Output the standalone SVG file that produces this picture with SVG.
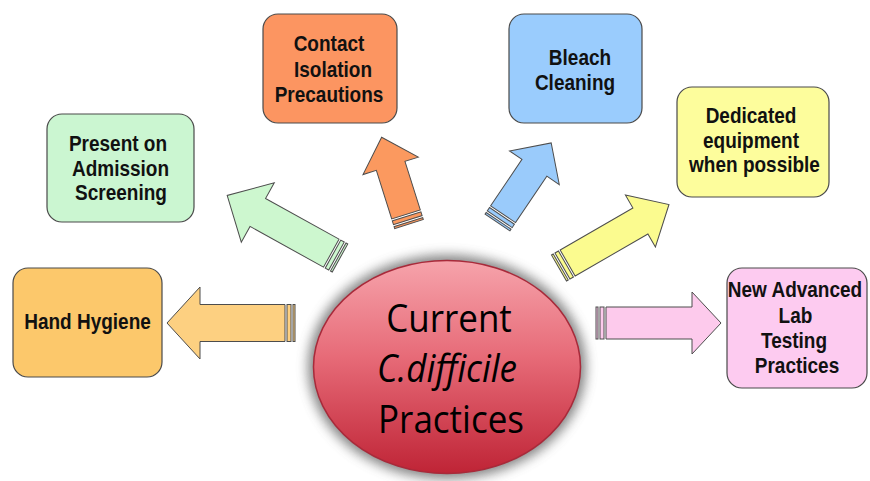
<svg xmlns="http://www.w3.org/2000/svg" width="870" height="481" viewBox="0 0 870 481">
  <defs>
    <style>
      .box { stroke: #4a4a4a; stroke-width: 1.2; }
      .lbl { font-family: "Liberation Sans", Arial, sans-serif; font-weight: bold; font-size: 19px; fill: #111; text-anchor: middle; }
      .arrow path, .arrow rect { stroke: #4d4d4d; stroke-width: 1; stroke-linejoin: miter; }
      .hub { font-family: "Open Sans", "Noto Sans", sans-serif; font-size: 35px; fill: #000; text-anchor: middle; }
    </style>
    <linearGradient id="hubFill" x1="0" y1="0" x2="0" y2="1">
      <stop offset="0" stop-color="#f6a3ab"/>
      <stop offset="0.45" stop-color="#e76b78"/>
      <stop offset="1" stop-color="#bf2436"/>
    </linearGradient>
    <filter id="halo" x="-20%" y="-20%" width="140%" height="140%">
      <feGaussianBlur stdDeviation="6"/>
    </filter>
  </defs>

  <rect width="870" height="481" fill="#ffffff"/>

  <!-- connectors: striped block arrows, drawn along +x from the tail -->
  <g id="connectors">
    <g class="arrow" fill="#fdd081" transform="translate(295,323) rotate(180)">
      <rect x="0" y="-18.5" width="2" height="37"/>
      <rect x="4" y="-18.5" width="4" height="37"/>
      <path d="M10,-18.5 H95 V-36 L128,0 L95,36 V18.5 H10 Z"/>
    </g>
    <g class="arrow" fill="#cdf7cf" transform="translate(340,258) rotate(209)">
      <rect x="0" y="-16" width="2" height="32"/>
      <rect x="4" y="-16" width="4" height="32"/>
      <path d="M10,-16 H94 V-34 L129,0 L94,34 V16 H10 Z"/>
    </g>
    <g class="arrow" fill="#fb995f" transform="translate(409,224) rotate(-107.5)">
      <rect x="0" y="-15" width="2" height="30"/>
      <rect x="4" y="-15" width="4" height="30"/>
      <path d="M10,-15 H61 V-29 L91,0 L61,29 V15 H10 Z"/>
    </g>
    <g class="arrow" fill="#9acbfb" transform="translate(497.5,222.5) rotate(-56)">
      <rect x="0" y="-15" width="2" height="30"/>
      <rect x="4" y="-15" width="4" height="30"/>
      <path d="M10,-15 H66 V-30 L96,0 L66,30 V15 H10 Z"/>
    </g>
    <g class="arrow" fill="#fbfb8f" transform="translate(559,268) rotate(-30)">
      <rect x="0" y="-15" width="2" height="30"/>
      <rect x="4" y="-15" width="4" height="30"/>
      <path d="M10,-15 H94 V-30 L127,0 L94,30 V15 H10 Z"/>
    </g>
    <g class="arrow" fill="#fdcaec" transform="translate(596,323)">
      <rect x="0" y="-16" width="2" height="32"/>
      <rect x="4" y="-16" width="4" height="32"/>
      <path d="M10,-16 H96 V-31 L125,0 L96,31 V16 H10 Z"/>
    </g>
  </g>

  <!-- central hub -->
  <g id="hub">
    <ellipse cx="447" cy="367" rx="139" ry="112" fill="#5a5a5a" opacity="0.75" filter="url(#halo)"/>
    <ellipse cx="447" cy="367" rx="133.5" ry="106.5" fill="url(#hubFill)" stroke="#a82a3a" stroke-width="1.5"/>
    <text class="hub" transform="translate(449,332) scale(1,1.08)">Current</text>
    <text class="hub" font-style="italic" transform="translate(447,382) scale(1,1.08)">C.difficile</text>
    <text class="hub" transform="translate(451,433) scale(1,1.08)">Practices</text>
  </g>

  <g id="hand-hygiene">
    <rect class="box" x="13" y="268" width="149" height="109" rx="15" fill="#fcc86b"/>
    <text class="lbl" transform="translate(87.5,329) scale(1,1.14)">Hand Hygiene</text>
  </g>

  <g id="admission-screening">
    <rect class="box" x="47" y="114" width="147" height="108" rx="15" fill="#cbf6d1"/>
    <text class="lbl" transform="translate(118,151) scale(1,1.14)">Present on</text>
    <text class="lbl" transform="translate(120.5,175.5) scale(1,1.14)">Admission</text>
    <text class="lbl" transform="translate(121,200) scale(1,1.14)">Screening</text>
  </g>

  <g id="contact-isolation">
    <rect class="box" x="263" y="14" width="134" height="109" rx="15" fill="#fc9561"/>
    <text class="lbl" transform="translate(329,51) scale(1,1.12)">Contact</text>
    <text class="lbl" transform="translate(333,76.5) scale(1,1.12)">Isolation</text>
    <text class="lbl" transform="translate(329,101.5) scale(1,1.12)">Precautions</text>
  </g>

  <g id="bleach-cleaning">
    <rect class="box" x="509" y="14" width="133" height="109" rx="15" fill="#9accfd"/>
    <text class="lbl" transform="translate(580,65) scale(1,1.12)">Bleach</text>
    <text class="lbl" transform="translate(575,89.5) scale(1,1.12)">Cleaning</text>
  </g>

  <g id="dedicated-equipment">
    <rect class="box" x="677" y="87" width="152" height="110" rx="15" fill="#fdfd9c"/>
    <text class="lbl" transform="translate(751,123) scale(1,1.12)">Dedicated</text>
    <text class="lbl" transform="translate(751,147.5) scale(1,1.12)">equipment</text>
    <text class="lbl" transform="translate(754.5,172) scale(1,1.12)">when possible</text>
  </g>

  <g id="lab-testing">
    <rect class="box" x="727" y="268" width="140" height="120" rx="15" fill="#fdcbf0"/>
    <text class="lbl" transform="translate(795,297) scale(1,1.12)">New Advanced</text>
    <text class="lbl" transform="translate(795.5,323) scale(1,1.12)">Lab</text>
    <text class="lbl" transform="translate(794,348) scale(1,1.12)">Testing</text>
    <text class="lbl" transform="translate(797,373) scale(1,1.12)">Practices</text>
  </g>
</svg>
